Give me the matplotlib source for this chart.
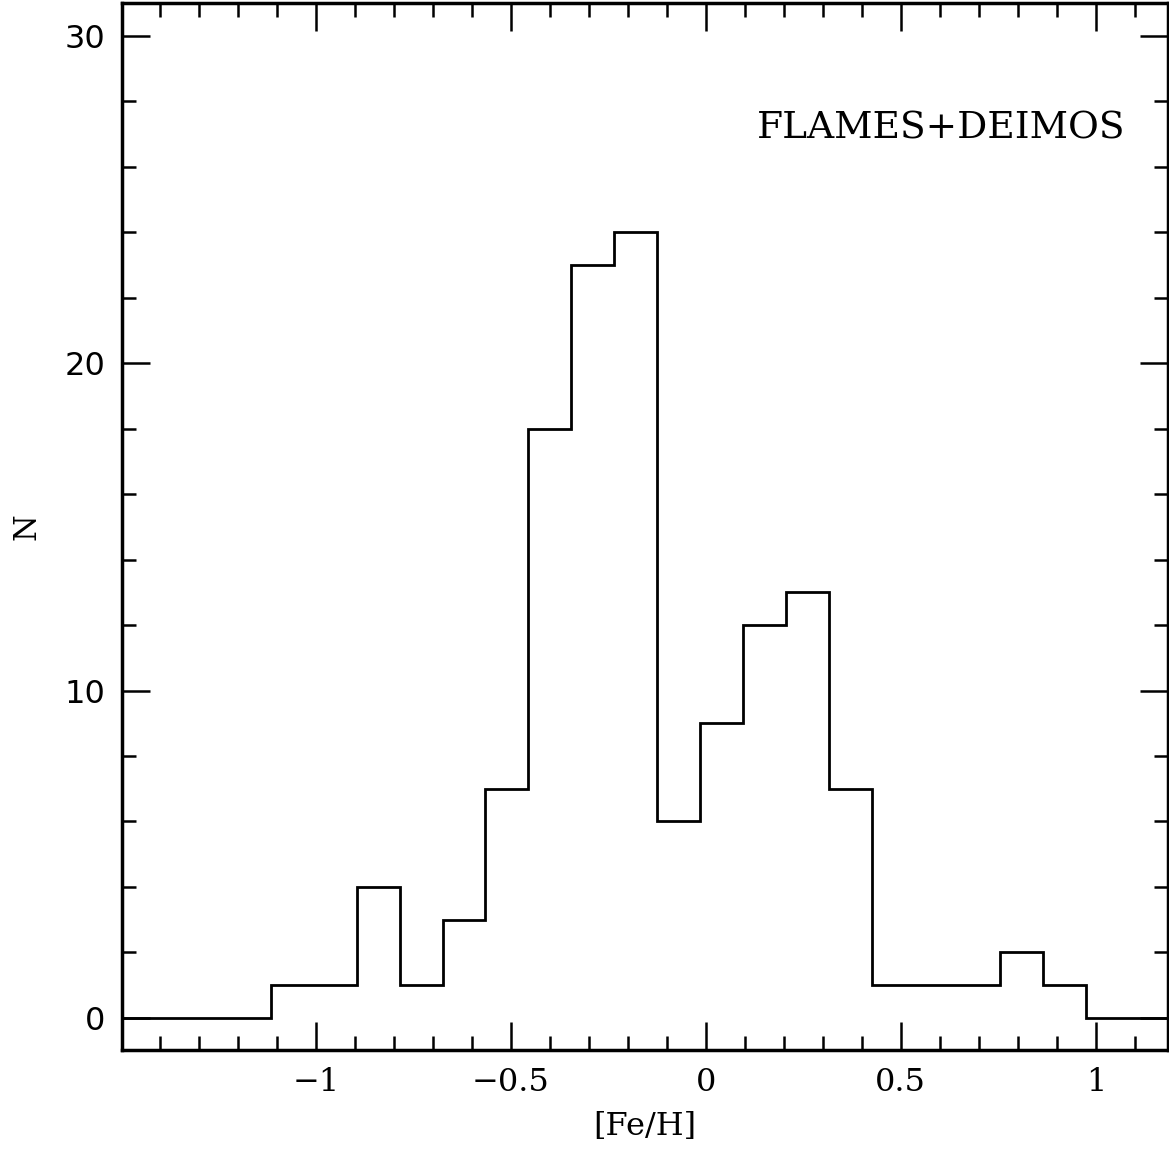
import matplotlib
matplotlib.use("Agg")
import matplotlib.pyplot as plt
from matplotlib.ticker import MultipleLocator, FixedLocator

# Histogram of [Fe/H]
bin_edges = [-1.555, -1.445, -1.335, -1.225, -1.115, -1.005, -0.895, -0.785,
             -0.675, -0.565, -0.455, -0.345, -0.235, -0.125, -0.015, 0.095,
             0.205, 0.315, 0.425, 0.535, 0.645, 0.755, 0.865, 0.975, 1.085, 1.195]
counts = [0, 0, 0, 0, 1, 1, 4, 1, 3, 7, 18, 23, 24, 6, 9, 12, 13, 7,
          1, 1, 1, 2, 1, 0, 0]

x_ticks = [-1, -0.5, 0, 0.5, 1]
x_ticklabels = ["\u22121", "\u22120.5", "0", "0.5", "1"]
y_ticks = [0, 10, 20, 30]
y_ticklabels = ["0", "10", "20", "30"]

fig = plt.figure(figsize=(11.69, 11.51), dpi=100)
ax = fig.add_axes([122/1169, 1 - 1050/1151, (1168-122)/1169, (1050-3)/1151])

ax.stairs(counts, bin_edges, baseline=None, color="black", linewidth=2)

ax.set_xlim(-1.497, 1.185)
ax.set_ylim(-0.98, 31.0)

ax.xaxis.set_major_locator(FixedLocator(x_ticks))
ax.xaxis.set_minor_locator(MultipleLocator(0.1))
ax.yaxis.set_major_locator(FixedLocator(y_ticks))
ax.yaxis.set_minor_locator(MultipleLocator(2))
ax.set_xticklabels(x_ticklabels, family="DejaVu Serif", fontsize=23)
ax.set_yticklabels(y_ticklabels, family="DejaVu Sans", fontsize=23)

ax.tick_params(which="both", direction="in", top=True, right=True, width=1.8, color="black")
ax.tick_params(which="major", length=20, pad=12)
ax.tick_params(which="minor", length=10)
ax.tick_params(axis="y", which="major", pad=12)

for s in ax.spines.values():
    s.set_linewidth(2.5)

ax.set_xlabel("[Fe/H]", family="DejaVu Serif", fontsize=23)
ax.xaxis.set_label_coords(0.5, -0.058)
ax.set_ylabel("N", family="DejaVu Serif", fontsize=22)
ax.yaxis.set_label_coords(-0.076, 0.5)

ax.text(0.959, 0.871, "FLAMES+DEIMOS", transform=ax.transAxes, ha="right", va="baseline",
        family="DejaVu Serif", fontsize=27)

fig.savefig("out.png", dpi=100)
